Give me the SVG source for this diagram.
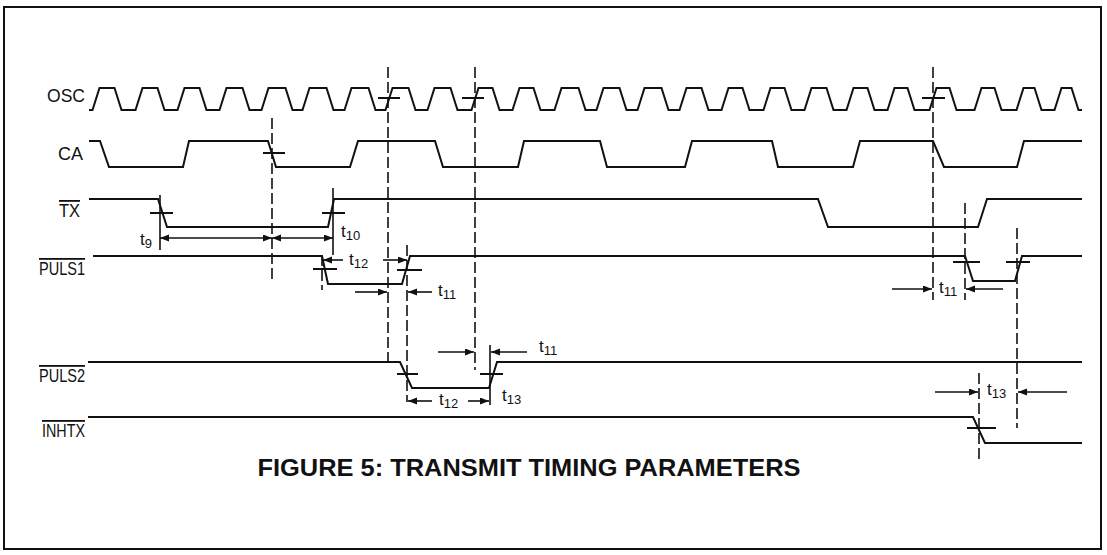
<svg xmlns="http://www.w3.org/2000/svg" width="1107" height="555" viewBox="0 0 1107 555">
<style>
.sig{fill:none;stroke:#111;stroke-width:2;stroke-linejoin:miter}
.tick{stroke:#111;stroke-width:2}
.dash{stroke:#111;stroke-width:1.6;stroke-dasharray:11 4}
.vl{stroke:#111;stroke-width:1.6}
.dim{stroke:#111;stroke-width:1.6;fill:none}
.lbl{font-family:"Liberation Sans",Arial,sans-serif;font-size:18px;fill:#111}
.tl{font-family:"Liberation Sans",Arial,sans-serif;font-size:17px;fill:#111}
.sub{font-size:13px}
.title{font-family:"Liberation Sans",Arial,sans-serif;font-size:24px;font-weight:bold;fill:#111}
</style>
<defs>
<marker id="ah" markerWidth="10" markerHeight="8" refX="9" refY="3.5" orient="auto-start-reverse" markerUnits="userSpaceOnUse">
<path d="M0,0 L9,3.5 L0,7 z" fill="#111"/>
</marker>
</defs>
<rect x="4" y="7" width="1097" height="542" fill="#fff" stroke="#111" stroke-width="2"/>

<g id="osc">
<text class="lbl" x="85" y="102" text-anchor="end" textLength="38" lengthAdjust="spacingAndGlyphs">OSC</text>
<path class="sig" d="M89,110 L92.5,110 L99.5,88 L114.5,88 L121.5,110 L135.5,110 L142.5,88 L157.5,88 L164.5,110 L177.5,110 L184.5,88 L199.5,88 L206.5,110 L219.5,110 L226.5,88 L242.5,88 L249.5,110 L261.5,110 L268.5,88 L285.5,88 L292.5,110 L302.5,110 L309.5,88 L326.5,88 L333.5,110 L344.5,110 L351.5,88 L368.5,88 L375.5,110 L385.5,110 L392.5,88 L408.5,88 L415.5,110 L427.5,110 L434.5,88 L450.5,88 L457.5,110 L471.5,110 L478.5,88 L492.5,88 L499.5,110 L512.5,110 L519.5,88 L533.5,88 L540.5,110 L554.5,110 L561.5,88 L578.5,88 L585.5,110 L596.5,110 L603.5,88 L619.5,88 L626.5,110 L637.5,110 L644.5,88 L661.5,88 L668.5,110 L679.5,110 L686.5,88 L701.5,88 L708.5,110 L721.5,110 L728.5,88 L742.5,88 L749.5,110 L763.5,110 L770.5,88 L784.5,88 L791.5,110 L804.5,110 L811.5,88 L826.5,88 L833.5,110 L846.5,110 L853.5,88 L867.5,88 L874.5,110 L887.5,110 L894.5,88 L907.5,88 L914.5,110 L929.5,110 L936.5,88 L949.5,88 L956.5,110 L974.5,110 L981.5,88 L994.5,88 L1001.5,110 L1016.5,110 L1023.5,88 L1034.5,88 L1041.5,110 L1054.5,110 L1061.5,88 L1071.5,88 L1078.5,110 L1082,110"/>
<line class="tick" x1="378" y1="98" x2="400" y2="98"/>
<line class="tick" x1="462" y1="98" x2="484" y2="98"/>
<line class="tick" x1="922" y1="98" x2="945" y2="98"/>
</g>

<g id="ca">
<text class="lbl" x="83" y="160" text-anchor="end" textLength="25" lengthAdjust="spacingAndGlyphs">CA</text>
<path class="sig" d="M89,141 L100,141 L109,167 L183,167 L189,141 L268,141 L276,167 L350,167 L358,141 L435,141 L443,167 L518,167 L524,141 L600,141 L607,167 L685,167 L692,141 L772,141 L778,167 L853,167 L860,141 L933,141 L944,167 L1017,167 L1024,141 L1082,141"/>
<line class="tick" x1="263" y1="153" x2="285" y2="153"/>
</g>

<g id="tx">
<text class="lbl" x="80" y="217" text-anchor="end" text-decoration="overline" textLength="21" lengthAdjust="spacingAndGlyphs">TX</text>
<path class="sig" d="M89,199 L158,199 L167,227 L328,227 L334,199 L818,199 L828,227 L978,227 L987,199 L1082,199"/>
<line class="tick" x1="150" y1="213" x2="173" y2="213"/>
<line class="tick" x1="322" y1="213" x2="345" y2="213"/>
</g>

<g id="puls1">
<text class="lbl" x="85" y="275" text-anchor="end" text-decoration="overline" textLength="46" lengthAdjust="spacingAndGlyphs">PULS1</text>
<path class="sig" d="M93,256 L322,256 L328,284 L402,284 L410,256 L965,256 L973,281 L1015,281 L1022,256 L1082,256"/>
<line class="tick" x1="313" y1="269" x2="337" y2="269"/>
<line class="tick" x1="397" y1="270" x2="422" y2="270"/>
<line class="tick" x1="953" y1="262" x2="980" y2="262"/>
<line class="tick" x1="1006" y1="262" x2="1030" y2="262"/>
</g>

<g id="puls2">
<text class="lbl" x="85" y="382" text-anchor="end" text-decoration="overline" textLength="46" lengthAdjust="spacingAndGlyphs">PULS2</text>
<path class="sig" d="M88,362 L400,362 L412,388 L489,388 L497,362 L1082,362"/>
<line class="tick" x1="397" y1="374" x2="418" y2="374"/>
<line class="tick" x1="480" y1="374" x2="503" y2="374"/>
</g>

<g id="inhtx">
<text class="lbl" x="85" y="437" text-anchor="end" text-decoration="overline" textLength="43" lengthAdjust="spacingAndGlyphs">INHTX</text>
<path class="sig" d="M88,417 L973,417 L985,443 L1082,443"/>
<line class="tick" x1="967" y1="428" x2="996" y2="428"/>
</g>

<g id="connectors">
<line class="dash" x1="272" y1="118" x2="272" y2="282"/>
<line class="dash" x1="388" y1="67" x2="388" y2="362"/>
<line class="dash" x1="475" y1="67" x2="475" y2="370"/>
<line class="dash" x1="933" y1="67" x2="933" y2="300"/>
<line class="dash" x1="322" y1="255" x2="322" y2="290"/>
<line class="dash" x1="407" y1="245" x2="407" y2="402"/>
<line class="dash" x1="965" y1="203" x2="965" y2="300"/>
<line class="dash" x1="1017" y1="228" x2="1017" y2="428"/>
<line class="dash" x1="979" y1="373" x2="979" y2="462"/>
<line class="vl" x1="160" y1="195" x2="160" y2="250"/>
<line class="vl" x1="333" y1="188" x2="333" y2="255"/>
<line class="vl" x1="490" y1="345" x2="490" y2="405"/>
<line class="dim" x1="160" y1="238" x2="272" y2="238" marker-start="url(#ah)" marker-end="url(#ah)"/>
<line class="dim" x1="272" y1="238" x2="333" y2="238" marker-start="url(#ah)" marker-end="url(#ah)"/>
<line class="dim" x1="343" y1="260" x2="323" y2="260" marker-end="url(#ah)"/>
<line class="dim" x1="383" y1="260" x2="407" y2="260" marker-end="url(#ah)"/>
<line class="dim" x1="355" y1="292" x2="387" y2="292" marker-end="url(#ah)"/>
<line class="dim" x1="432" y1="292" x2="408" y2="292" marker-end="url(#ah)"/>
<line class="dim" x1="438" y1="352" x2="474" y2="352" marker-end="url(#ah)"/>
<line class="dim" x1="527" y1="352" x2="491" y2="352" marker-end="url(#ah)"/>
<line class="dim" x1="432" y1="401" x2="408" y2="401" marker-end="url(#ah)"/>
<line class="dim" x1="468" y1="401" x2="489" y2="401" marker-end="url(#ah)"/>
<line class="dim" x1="892" y1="289" x2="932" y2="289" marker-end="url(#ah)"/>
<line class="dim" x1="1003" y1="289" x2="966" y2="289" marker-end="url(#ah)"/>
<line class="dim" x1="935" y1="392" x2="978" y2="392" marker-end="url(#ah)"/>
<line class="dim" x1="1067" y1="392" x2="1018" y2="392" marker-end="url(#ah)"/>
</g>

<g id="timing-labels">
<text class="tl" x="140" y="245">t<tspan class="sub" dy="3">9</tspan></text>
<text class="tl" x="341" y="237">t<tspan class="sub" dy="3">10</tspan></text>
<text class="tl" x="349" y="265">t<tspan class="sub" dy="3">12</tspan></text>
<text class="tl" x="438" y="296">t<tspan class="sub" dy="3">11</tspan></text>
<text class="tl" x="539" y="352">t<tspan class="sub" dy="3">11</tspan></text>
<text class="tl" x="439" y="405">t<tspan class="sub" dy="3">12</tspan></text>
<text class="tl" x="502" y="401">t<tspan class="sub" dy="3">13</tspan></text>
<text class="tl" x="939" y="293">t<tspan class="sub" dy="3">11</tspan></text>
<text class="tl" x="987" y="395">t<tspan class="sub" dy="3">13</tspan></text>
</g>

<text class="title" x="529" y="476" text-anchor="middle" textLength="543" lengthAdjust="spacingAndGlyphs">FIGURE 5: TRANSMIT TIMING PARAMETERS</text>
</svg>
